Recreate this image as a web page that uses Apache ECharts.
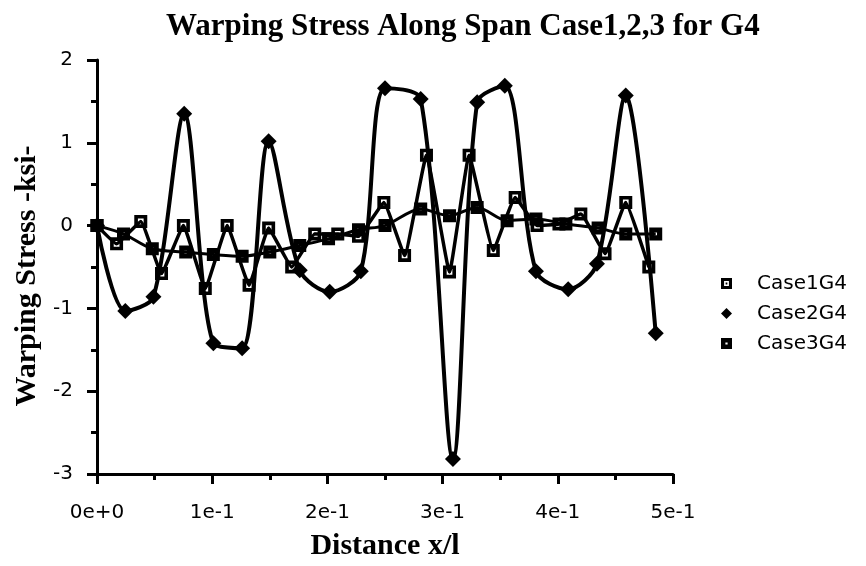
<!DOCTYPE html>
<html>
<head>
<meta charset="utf-8">
<title>Warping Stress Along Span Case1,2,3 for G4</title>
<script src="https://cdn.jsdelivr.net/npm/echarts@6/dist/echarts.min.js"></script>
<style>
  html, body { margin: 0; padding: 0; background: #fff; }
  #chart { width: 866px; height: 566px; }
</style>
</head>
<body>
<div id="chart"></div>
<script>
// Distance x/l positions and warping stress (ksi) for each load case
const case1X = [0, 0.017, 0.038, 0.056, 0.075, 0.094, 0.113, 0.132, 0.149, 0.169,
  0.189, 0.209, 0.227, 0.249, 0.267, 0.286, 0.306, 0.323, 0.344, 0.363,
  0.382, 0.401, 0.42, 0.441, 0.459, 0.479];
const case1Y = [0, -0.22, 0.05, -0.58, 0.0, -0.76, 0.0, -0.72, -0.03, -0.5,
  -0.1, -0.1, -0.13, 0.28, -0.36, 0.85, -0.56, 0.85, -0.3, 0.34,
  0.0, 0.02, 0.14, -0.34, 0.28, -0.5];

const case2X = [0, 0.0246, 0.049, 0.0757, 0.101, 0.126, 0.149, 0.176, 0.202, 0.229,
  0.25, 0.281, 0.309, 0.33, 0.354, 0.381, 0.409, 0.434, 0.459, 0.485];
const case2Y = [0, -1.03, -0.86, 1.35, -1.42, -1.48, 1.02, -0.54, -0.8, -0.55,
  1.66, 1.53, -2.82, 1.49, 1.69, -0.55, -0.77, -0.46, 1.57, -1.3];

const case3X = [0, 0.023, 0.048, 0.077, 0.101, 0.126, 0.15, 0.176, 0.201, 0.227,
  0.25, 0.281, 0.306, 0.33, 0.356, 0.381, 0.407, 0.435, 0.459, 0.485];
const case3Y = [0, -0.1, -0.28, -0.32, -0.35, -0.37, -0.32, -0.24, -0.16, -0.05,
  0.0, 0.2, 0.12, 0.22, 0.06, 0.08, 0.02, -0.03, -0.1, -0.1];

const seriesNames = ['Case1G4', 'Case2G4', 'Case3G4'];
const xTickLabels = ['0e+0', '1e-1', '2e-1', '3e-1', '4e-1', '5e-1'];
const yTickLabels = ['-3', '-2', '-1', '0', '1', '2'];

const zip = (xs, ys) => xs.map((x, i) => [x, ys[i]]);

// Marker shapes: open square with centre dot, filled square with a small hole
const openSquare = 'path://M0,0H10V10H0Z M2.8,2.8V7.2H7.2V2.8Z M4.2,4.2H5.8V5.8H4.2Z';
const solidSquare = 'path://M0,0H10V10H0Z M4,4V6H6V4Z';

const serif = '"Liberation Serif", "Times New Roman", serif';
const sans = '"DejaVu Sans", "Liberation Sans", Arial, sans-serif';

const chart = echarts.init(document.getElementById('chart'), null, { renderer: 'canvas' });

chart.setOption({
  animation: false,
  backgroundColor: '#fff',
  title: {
    text: 'Warping Stress Along Span Case1,2,3 for G4',
    left: 161,
    top: 6,
    textStyle: { fontFamily: serif, fontWeight: 'bold', fontSize: 31, color: '#000' }
  },
  legend: {
    orient: 'vertical',
    left: 716,
    top: 268,
    itemWidth: 11,
    itemHeight: 11,
    itemGap: 9,
    selectedMode: false,
    textStyle: { fontFamily: sans, fontSize: 20, color: '#000', lineHeight: 21, padding: [0, 0, 0, 20] },
    data: [
      { name: seriesNames[0], icon: openSquare, itemStyle: { color: '#000', borderWidth: 0 } },
      { name: seriesNames[1], icon: 'diamond', itemStyle: { color: '#000', borderWidth: 0 } },
      { name: seriesNames[2], icon: solidSquare, itemStyle: { color: '#000', borderWidth: 0 } }
    ]
  },
  grid: { left: 97, right: 193, top: 60, bottom: 92, containLabel: false },
  xAxis: {
    type: 'value',
    min: 0,
    max: 0.5,
    interval: 0.1,
    name: 'Distance x/l',
    nameLocation: 'middle',
    nameGap: 57,
    nameTextStyle: { fontFamily: serif, fontWeight: 'bold', fontSize: 30, color: '#000' },
    axisLine: { show: true, onZero: false, lineStyle: { color: '#000', width: 3 } },
    axisTick: { show: true, inside: false, length: 10, lineStyle: { color: '#000', width: 3 } },
    minorTick: { show: true, splitNumber: 2, length: 6, lineStyle: { color: '#000', width: 3 } },
    splitLine: { show: false },
    axisLabel: {
      margin: 29,
      fontFamily: sans,
      fontSize: 20,
      color: '#000',
      formatter: v => xTickLabels[Math.round(v / 0.1)]
    }
  },
  yAxis: {
    type: 'value',
    min: -3,
    max: 2,
    interval: 1,
    name: 'Warping Stress -ksi-',
    nameLocation: 'middle',
    nameRotate: 90,
    nameGap: 53,
    nameTextStyle: { fontFamily: serif, fontWeight: 'bold', fontSize: 30, color: '#000', padding: [0, 18, 0, 0] },
    axisLine: { show: true, onZero: false, lineStyle: { color: '#000', width: 3 } },
    axisTick: { show: true, inside: false, length: 10, lineStyle: { color: '#000', width: 3 } },
    minorTick: { show: true, splitNumber: 2, length: 6, lineStyle: { color: '#000', width: 3 } },
    splitLine: { show: false },
    axisLabel: {
      margin: 24,
      fontFamily: sans,
      fontSize: 20,
      color: '#000',
      formatter: v => yTickLabels[Math.round(v + 3)]
    }
  },
  series: [
    {
      name: seriesNames[0],
      type: 'line',
      data: zip(case1X, case1Y),
      smooth: 0.1,
      symbol: openSquare,
      symbolSize: 13,
      lineStyle: { color: '#000', width: 3.5 },
      itemStyle: { color: '#000', borderWidth: 0 },
      z: 2
    },
    {
      name: seriesNames[1],
      type: 'line',
      data: zip(case2X, case2Y),
      smooth: 0.3,
      symbol: 'diamond',
      symbolSize: 16,
      lineStyle: { color: '#000', width: 4 },
      itemStyle: { color: '#000', borderWidth: 0 },
      z: 3
    },
    {
      name: seriesNames[2],
      type: 'line',
      data: zip(case3X, case3Y),
      smooth: 0.3,
      symbol: solidSquare,
      symbolSize: 13,
      lineStyle: { color: '#000', width: 3 },
      itemStyle: { color: '#000', borderWidth: 0 },
      z: 4
    }
  ]
});
</script>
</body>
</html>
